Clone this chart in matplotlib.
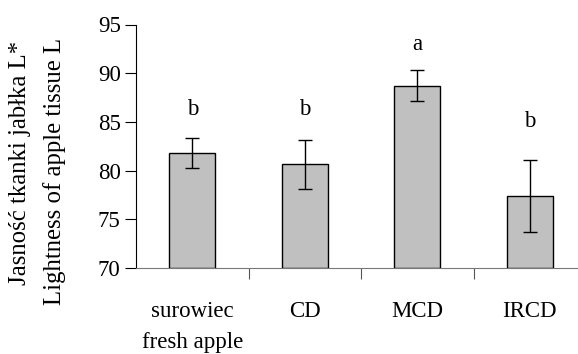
import matplotlib
matplotlib.use("Agg")
import matplotlib.pyplot as plt
import numpy as np

categories = ["surowiec\nfresh apple", "CD", "MCD", "IRCD"]
values = [81.8, 80.65, 88.7, 77.4]
errors = [1.5, 2.5, 1.6, 3.7]
letters = ["b", "b", "a", "b"]
letter_y = [86.3, 86.3, 92.9, 85.0]
yticks = [70, 75, 80, 85, 90, 95]
ylabel_lines = ["Jasność tkanki jabłka L*", "Lightness of apple tissue L"]

plt.rcParams['font.family'] = ['Liberation Serif', 'DejaVu Serif']
fs = 16.5

fig = plt.figure(figsize=(5.78, 3.54), dpi=100)
ax = fig.add_axes([136/578, 86/354, 450/578, 243.5/354])
x = np.arange(len(categories))
ax.bar(x, [v - 70 for v in values], bottom=70, width=0.41, color='#c0c0c0',
       edgecolor='black', linewidth=1.0, zorder=2)
ax.errorbar(x, values, yerr=errors, fmt='none', ecolor='black', elinewidth=1.0,
            capsize=5, capthick=1.0, zorder=3)
for xi, l, ly in zip(x, letters, letter_y):
    ax.text(xi, ly, l, ha='center', va='center', fontsize=fs)

ax.set_xlim(-0.5, 3.5)
ax.set_ylim(70, 95)
ax.set_yticks(yticks)
ax.set_xticks(x)
ax.set_xticklabels(categories, fontsize=fs, linespacing=1.6)
ax.set_xticks([0.5, 1.5, 2.5], minor=True)
ax.tick_params(axis='x', which='major', length=0, pad=24)
ax.tick_params(axis='x', which='minor', length=8, direction='out', width=0.8, color='#555555')
ax.tick_params(axis='y', length=8, direction='out', width=0.8, labelsize=fs, pad=3)
for s in ['top', 'right']:
    ax.spines[s].set_visible(False)
ax.spines['bottom'].set_color('#777777')
ax.spines['left'].set_linewidth(0.8)

fig.text(20/578, 1 - 163/354, ylabel_lines[0], rotation=90, ha='center', va='center', fontsize=17.8)
fig.text(55/578, 1 - 171/354, ylabel_lines[1], rotation=90, ha='center', va='center', fontsize=17.8)

fig.savefig("out.png", dpi=100)
